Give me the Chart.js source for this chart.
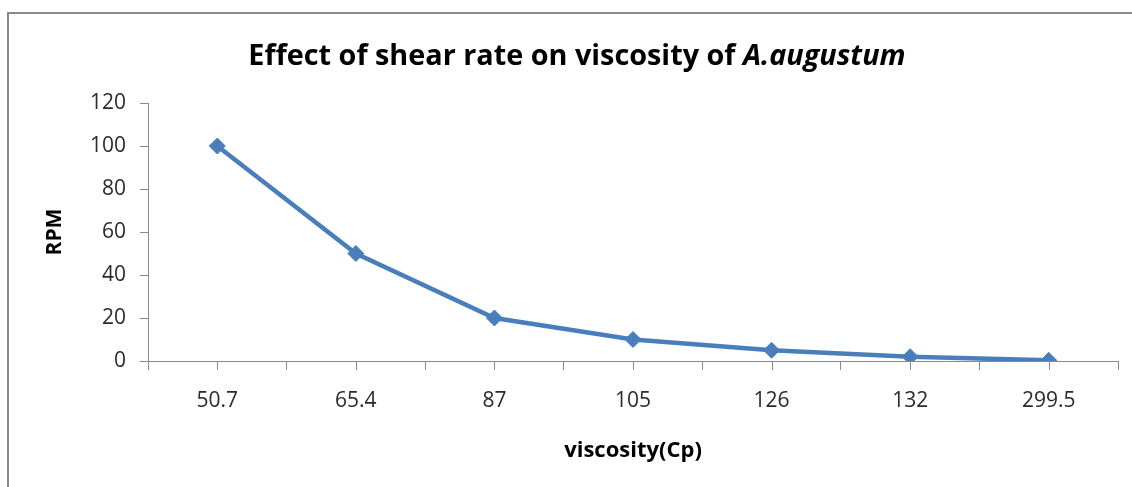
<!DOCTYPE html>
<html>
<head>
<meta charset="utf-8">
<script src="https://cdn.jsdelivr.net/npm/chart.js@4"></script>
<style>
  html, body { margin: 0; padding: 0; background: #fff; overflow: hidden; }
  body { width: 1132px; height: 487px; position: relative; }
  #frame {
    position: absolute; left: 7px; top: 12px;
    width: 1160px; height: 500px;
    border: 2px solid #8a8a8a; box-sizing: border-box;
  }
  #title {
    position: absolute; left: 0; top: 39px; width: 1154px;
    text-align: center; font-family: "Open Sans", sans-serif;
    font-weight: bold; font-size: 28.8px; line-height: 29px; color: #000;
  }
  #wrap { position: absolute; left: 9px; top: 14px; width: 1123px; height: 473px; }
</style>
</head>
<body>
<div id="frame"></div>
<div id="wrap"><canvas id="chart"></canvas></div>
<div id="title">Effect of shear rate on viscosity of <i>A.augustum</i></div>
<script>
'use strict';

// viscosity (Cp) categories and RPM readings
const viscosity = ['50.7', '65.4', '87', '105', '126', '132', '299.5'];
const rpm = [100, 50, 20, 10, 5, 2, 0.3];
const yTicks = [0, 20, 40, 60, 80, 100, 120];

const AXIS = '#8a8a8a';
const BLUE = '#4a7ebb';
const FONT = '"Open Sans", sans-serif';

// Excel-style tick marks at each category centre as well as the boundaries
const centreTicks = {
  id: 'centreTicks',
  afterDraw(chart) {
    const xs = chart.scales.x;
    const ctx = chart.ctx;
    ctx.save();
    ctx.strokeStyle = AXIS;
    ctx.lineWidth = 1;
    ctx.beginPath();
    viscosity.forEach((_, i) => {
      const px = Math.round(xs.getPixelForTick(i)) + 0.5;
      ctx.moveTo(px, xs.top);
      ctx.lineTo(px, xs.top + 9);
    });
    ctx.stroke();
    ctx.restore();
  },
};

new Chart(document.getElementById('chart'), {
  type: 'line',
  data: {
    labels: viscosity,
    datasets: [{
      label: 'RPM',
      data: rpm,
      borderColor: BLUE,
      backgroundColor: BLUE,
      borderWidth: 4.5,
      pointStyle: 'rectRot',
      pointRadius: 8,
      pointBorderWidth: 1,
      pointBackgroundColor: BLUE,
      pointBorderColor: BLUE,
      tension: 0,
      fill: false,
    }],
  },
  options: {
    responsive: true,
    maintainAspectRatio: false,
    animation: false,
    layout: { padding: { top: 89, right: 14, bottom: 0, left: 0 } },
    plugins: {
      legend: { display: false },
      tooltip: { enabled: false },
    },
    scales: {
      x: {
        offset: true,
        grid: { offset: true, drawOnChartArea: false, color: AXIS, tickLength: 9 },
        border: { color: AXIS, width: 1 },
        ticks: { color: '#2b2b2b', font: { family: FONT, size: 21 }, padding: 18, maxRotation: 0 },
        title: {
          display: true, text: 'viscosity(Cp)', color: '#000',
          font: { family: FONT, size: 22, weight: 'bold' }, padding: { top: 0, bottom: 23 },
        },
        afterFit: (s) => { s.height = 126; },
      },
      y: {
        min: 0,
        max: 120,
        afterBuildTicks: (s) => { s.ticks = yTicks.map(v => ({ value: v })); },
        grid: { drawOnChartArea: false, color: AXIS, tickLength: 8 },
        border: { color: AXIS, width: 1 },
        ticks: { color: '#2b2b2b', font: { family: FONT, size: 21 }, padding: 14 },
        title: {
          display: true, text: 'RPM', color: '#000',
          font: { family: FONT, size: 21, weight: 'bold' }, padding: { top: 33, bottom: 0 },
        },
        afterFit: (s) => { s.width = 139; },
      },
    },
  },
  plugins: [centreTicks],
});
</script>
</body>
</html>
